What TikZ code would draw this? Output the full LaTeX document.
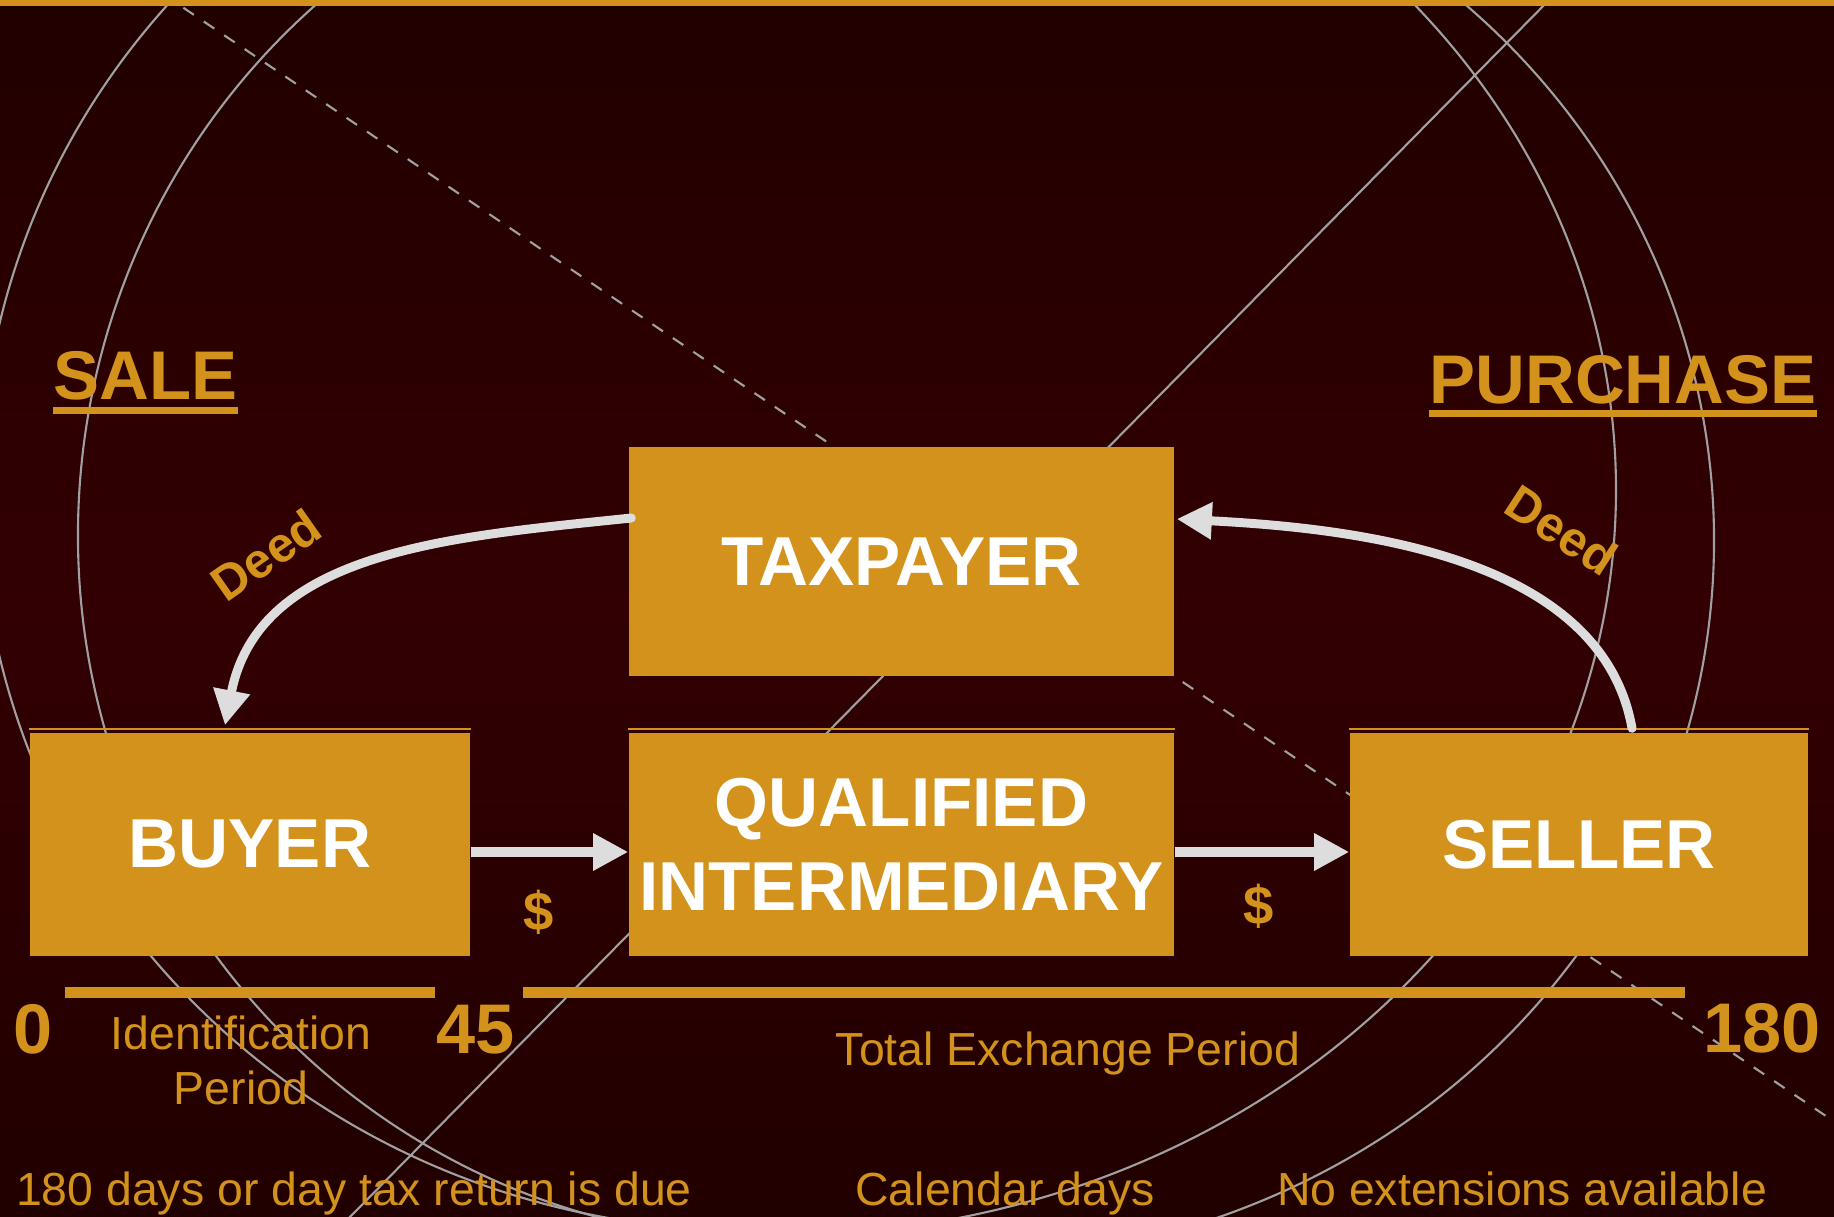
\documentclass[tikz,border=0pt]{standalone}
\usepackage{fontspec}
\setmainfont{Liberation Sans}
\usetikzlibrary{arrows.meta}

\definecolor{bgdark}{RGB}{33,0,0}
\definecolor{bgred}{RGB}{50,0,2}
\definecolor{gold}{RGB}{211,146,28}
\definecolor{arrowgray}{RGB}{221,221,221}
\definecolor{ringgray}{RGB}{160,160,160}

\begin{document}
\begin{tikzpicture}[x=0.1mm,y=0.1mm]
	\useasboundingbox (0,0) rectangle (1834,1216);
	\shade[top color=bgdark,bottom color=bgdark,middle color=bgred] (0,0) rectangle (1834,1216);

	% rings and guide lines in the back
	\begin{scope}[ringgray,line width=0.6pt]
		\clip (0,0) rectangle (1834,1216);
		\draw (746,726) ++(134:766 and 740) arc[start angle=134,end angle=264,x radius=766,y radius=740];
		\draw (778,681) ++(127:700 and 706) arc[start angle=127,end angle=259,x radius=700,y radius=706];
		\draw (781,726) ++(45:835 and 745) arc[start angle=45,end angle=-80,x radius=835,y radius=745];
		\draw (964,676) ++(52:750 and 720) arc[start angle=52,end angle=-74,x radius=750,y radius=720];
		\draw[dash pattern=on 3.6pt off 3.4pt] (163,1222) -- (1900,50);
		\draw (1555,1222) -- (345,-6);
	\end{scope}

	\fill[gold] (0,1210) rectangle (1834,1216);

	\begin{scope}[every node/.style={rectangle,fill=gold,text=white,align=center,inner sep=0pt,
		minimum height=22.3mm,font=\bfseries\fontsize{19.7}{24}\selectfont}]
		\node[minimum width=54.5mm,minimum height=22.9mm] (tax) at (901.5,654.5) {TAXPAYER};
		\node[minimum width=44mm] (buyer) at (250,371.5) {BUYER};
		\node[minimum width=54.5mm] (qi) at (901.5,371.5) {QUALIFIED\\INTERMEDIARY};
		\node[minimum width=45.8mm] (seller) at (1579,371.5) {SELLER};
	\end{scope}

	\foreach \b in {buyer,qi,seller}
		\draw[gold,line width=0.45pt] ([yshift=0.35mm]\b.north west) -- ([yshift=0.35mm]\b.north east);

	\begin{scope}[>={Triangle[length=10pt,width=10pt]},
		every node/.style={text=gold,inner sep=0pt,font=\bfseries\fontsize{15.5}{18}\selectfont},
		every edge/.style={draw=arrowgray,line width=2.85pt}]
		\path ([yshift=-0.75mm]buyer.east) edge[->] node[pos=0.43,below=3.3mm] {\$} ([yshift=-0.75mm]qi.west);
		\path ([yshift=-0.75mm]qi.east) edge[->] node[pos=0.48,below=2.7mm] {\$} ([yshift=-0.75mm]seller.west);

		\path ([xshift=0.3mm,yshift=4.35mm]tax.west) edge[->,line width=2.55pt,line cap=round,
			out=186,in=79] ([xshift=-2.5mm,yshift=0.7mm]buyer.north);
		\path ([xshift=5.3mm,yshift=0.4mm]seller.north) edge[->,line width=2.55pt,line cap=round,
			out=100,in=-3,looseness=0.9] ([xshift=0.2mm,yshift=4.25mm]tax.east);
	\end{scope}

	\begin{scope}[every node/.style={text=gold,inner sep=0pt,font=\fontsize{13.2}{15.6}\selectfont}]
		\node[anchor=base west,font=\bfseries\fontsize{19.6}{23}\selectfont] (sale) at (53,816) {SALE};
		\node[anchor=base west,font=\bfseries\fontsize{19.6}{23}\selectfont] (purchase) at (1429,813) {PURCHASE};
		\node[rotate=35,font=\bfseries\fontsize{14}{16}\selectfont] (deedsale) at (266,661) {Deed};
		\node[rotate=-33,font=\bfseries\fontsize{14}{16}\selectfont] (deedbuy) at (1562,686) {Deed};

		\node[anchor=base,font=\bfseries\fontsize{20}{24}\selectfont] (day0) at (33.5,163) {0};
		\node[anchor=base,font=\bfseries\fontsize{20}{24}\selectfont] (day45) at (476,163) {45};
		\node[anchor=base,font=\bfseries\fontsize{20}{24}\selectfont] (day180) at (1762,164) {180};

		\node[anchor=base,align=center] (idperiod) at (241,112) {Identification\\Period};
		\node[anchor=base] (totperiod) at (1068,151) {Total Exchange Period};

		\node[anchor=base] (due) at (354,11) {180 days or day tax return is due};
		\node[anchor=base] (calendar) at (1005,11) {Calendar days};
		\node[anchor=base] (noext) at (1522,11) {No extensions available};
	\end{scope}

	% underlines and period bars
	\draw[gold,line width=2pt] ([yshift=-1.05mm]sale.base west) -- ([yshift=-1.05mm]sale.base east);
	\draw[gold,line width=2pt] ([yshift=-1.05mm]purchase.base west) -- ([yshift=-1.05mm]purchase.base east);
	\fill[gold] (65,218) rectangle (435,229);
	\fill[gold] (523,218) rectangle (1685,229);
\end{tikzpicture}
\end{document}
